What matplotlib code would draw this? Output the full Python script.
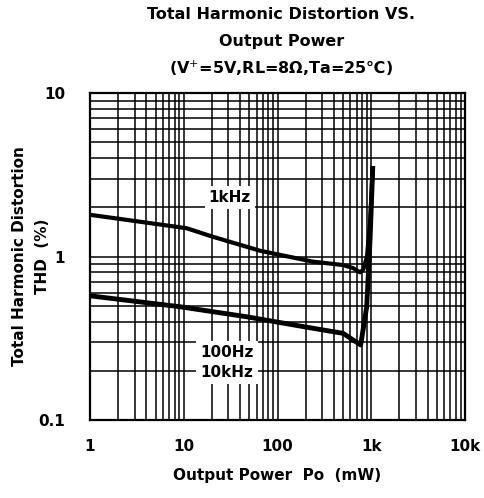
import matplotlib
matplotlib.use('Agg')
import matplotlib.pyplot as plt
from matplotlib.ticker import LogLocator, FixedLocator, NullFormatter

plt.rcParams['font.family'] = ['DejaVu Sans', 'Noto Sans CJK JP']

# 1kHz curve
p_1k = [1, 10.7, 20.5, 65, 239, 500, 639, 759, 820, 900, 970, 1036]
thd_1k = [1.80, 1.49, 1.32, 1.085, 0.93, 0.887, 0.85, 0.80, 0.83, 1.0, 1.6, 3.46]

# 100Hz / 10kHz curve
p_100 = [1, 9.1, 46.9, 239, 500, 639, 771, 894, 970, 1036]
thd_100 = [0.575, 0.493, 0.428, 0.364, 0.339, 0.309, 0.288, 0.493, 1.26, 3.46]

x_ticks = [1, 10, 100, 1000, 10000]
x_labels = ['1', '10', '100', '1k', '10k']
y_ticks = [0.1, 1, 10]
y_labels = ['0.1', '1', '10']

fig = plt.figure(figsize=(4.85, 4.98), dpi=100)
ax = fig.add_axes([0.1856, 0.1566, 0.7732, 0.6566])

ax.set_xscale('log')
ax.set_yscale('log')
ax.set_xlim(1, 10000)
ax.set_ylim(0.1, 10)

ax.plot(p_1k, thd_1k, color='black', lw=3, solid_joinstyle='round', zorder=5)
ax.plot(p_100, thd_100, color='black', lw=3.5, solid_joinstyle='round', zorder=5)

ax.xaxis.set_major_locator(FixedLocator(x_ticks))
ax.yaxis.set_major_locator(FixedLocator(y_ticks))
ax.xaxis.set_minor_locator(LogLocator(base=10, subs=range(2, 10), numticks=20))
ax.yaxis.set_minor_locator(LogLocator(base=10, subs=range(2, 10), numticks=20))
ax.xaxis.set_minor_formatter(NullFormatter())
ax.yaxis.set_minor_formatter(NullFormatter())
ax.set_xticklabels(x_labels, fontsize=11, fontweight='bold')
ax.set_yticklabels(y_labels, fontsize=11, fontweight='bold')
ax.tick_params(which='both', length=0)
ax.tick_params(axis='x', pad=14)
ax.tick_params(axis='y', pad=18)

ax.grid(True, which='both', color='black', lw=1.1)
for s in ax.spines.values():
    s.set_linewidth(1.6)

ax.text(31, 2.3, '1kHz', fontsize=11, fontweight='bold', ha='center', va='center',
        bbox=dict(facecolor='white', edgecolor='none', pad=3), zorder=6)
ax.text(29, 0.225, '100Hz\n10kHz', fontsize=11, fontweight='bold', ha='center', va='center',
        linespacing=1.4, bbox=dict(facecolor='white', edgecolor='none', pad=3), zorder=6)

ax.set_xlabel('Output Power  Po  (mW)', fontsize=11, fontweight='bold', labelpad=10)
fig.text(31 / 485, 1 - 256 / 498, 'Total Harmonic Distortion\nTHD  (%)', fontsize=11,
         fontweight='bold', rotation=90, ha='center', va='center', linespacing=1.7)

fig.text(0.58, 0.97, 'Total Harmonic Distortion VS.', fontsize=11.5, fontweight='bold',
         ha='center', va='center')
fig.text(0.58, 0.917, 'Output Power', fontsize=11.5, fontweight='bold', ha='center', va='center')
fig.text(0.58, 0.863, '(V$^{+}$=5V,RL=8\u03a9,Ta=25\u2103)', fontsize=11.5, fontweight='bold',
         ha='center', va='center')

fig.savefig('out.png', dpi=100)
